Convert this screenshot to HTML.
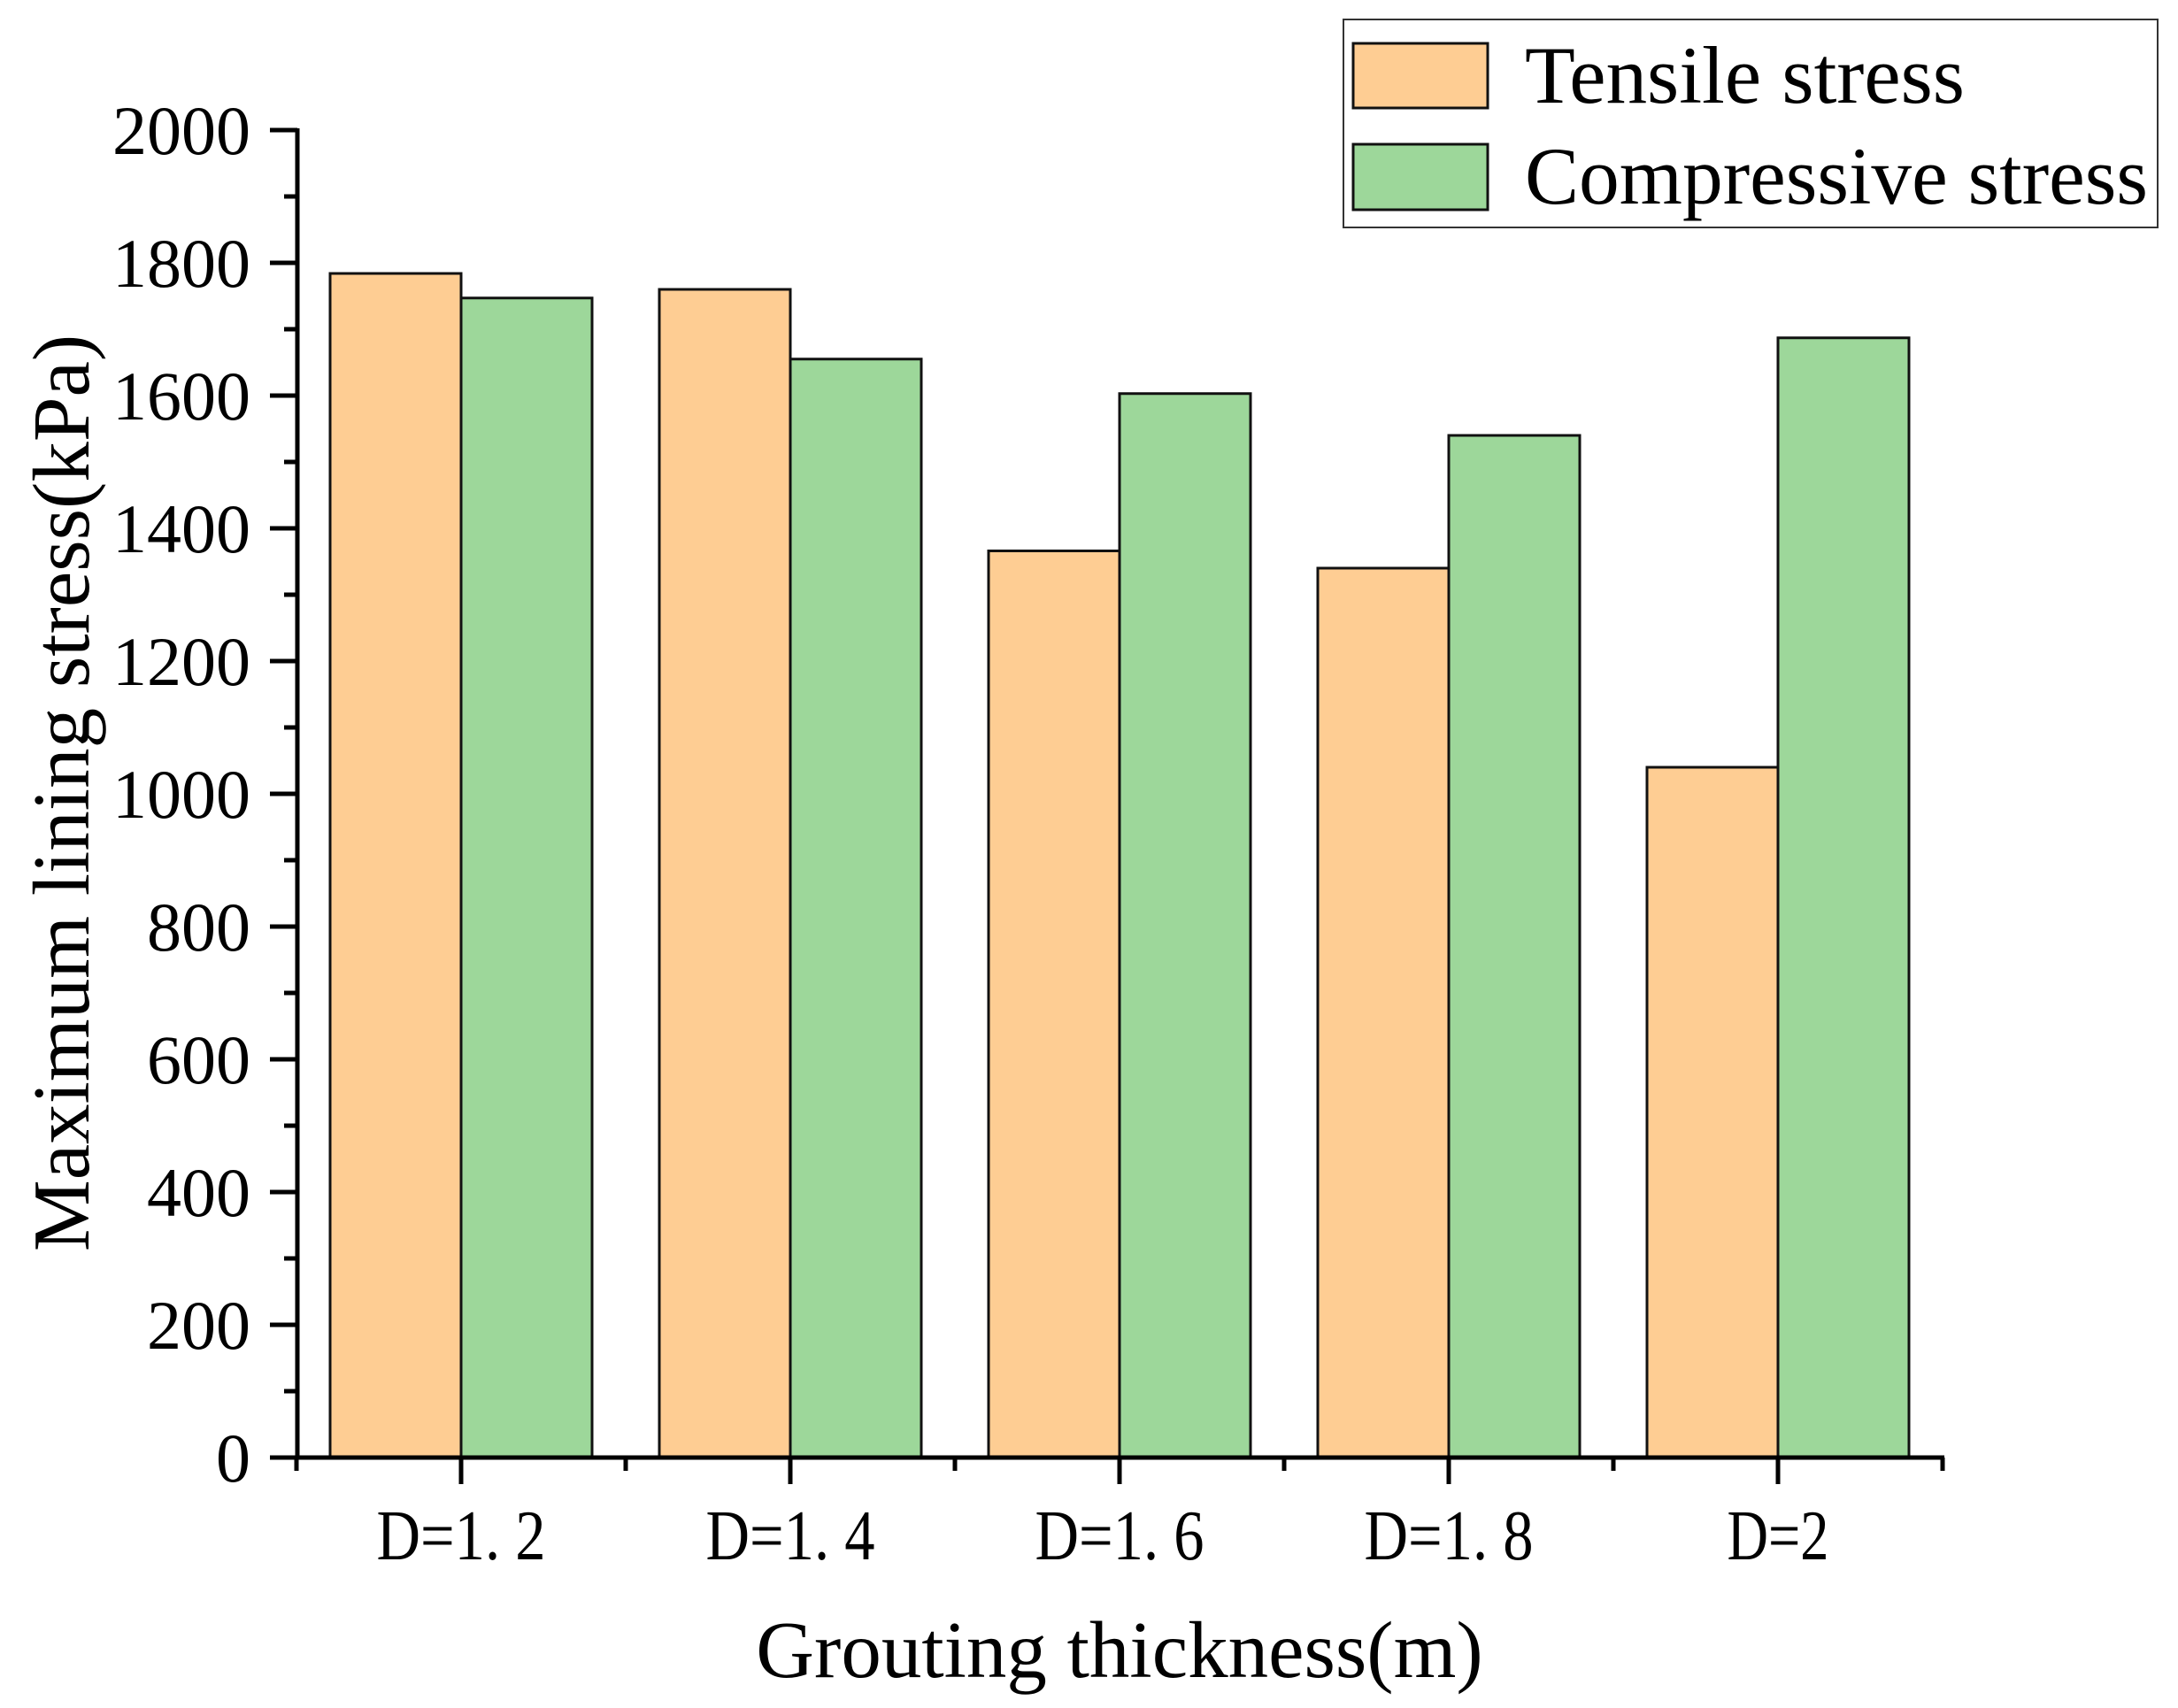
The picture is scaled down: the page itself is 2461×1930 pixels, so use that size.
<!DOCTYPE html>
<html><head><meta charset="utf-8"><style>html,body{margin:0;padding:0;background:#fff}svg{display:block}</style></head>
<body>
<svg id="chart" width="2461" height="1930" viewBox="0 0 2461 1930" xmlns="http://www.w3.org/2000/svg" font-family="'Liberation Serif', serif">
<g id="plot"></g>
<g>
<rect x="1518" y="22" width="920" height="235" fill="#fff" stroke="#333" stroke-width="2"/>
<rect x="1529" y="49" width="152" height="73" fill="#FECD93" stroke="#111" stroke-width="3"/>
<text x="1723" y="116" font-size="92" textLength="497" lengthAdjust="spacingAndGlyphs">Tensile stress</text>
<rect x="1529" y="163" width="152" height="74" fill="#9DD79A" stroke="#111" stroke-width="3"/>
<text x="1723" y="230" font-size="92" textLength="704" lengthAdjust="spacingAndGlyphs">Compressive stress</text>
</g>
<text x="1265" y="1895" font-size="91" text-anchor="middle">Grouting thickness(m)</text>
<text transform="translate(100,896) rotate(-90)" font-size="91" text-anchor="middle">Maximum lining stress(kPa)</text>
</svg>
<script>
const categories = ["D=1. 2", "D=1. 4", "D=1. 6", "D=1. 8", "D=2"];
const tensile = [1784, 1760, 1366, 1340, 1040];
const compressive = [1747, 1655, 1603, 1540, 1687];
const yTicks = [0, 200, 400, 600, 800, 1000, 1200, 1400, 1600, 1800, 2000];

const NS = "http://www.w3.org/2000/svg";
const g = document.getElementById("plot");
const x0 = 521, step = 372, barW = 148, yZero = 1647, yScale = 0.75;
const xAxisLeft = x0 - step / 2, xAxisRight = x0 + step * (categories.length - 0.5);
const yAxisX = 336;
function xc(i) { return x0 + i * step; }
function y(v) { return yZero - v * yScale; }
function mk(tag, attrs) { const e = document.createElementNS(NS, tag); for (const k in attrs) e.setAttribute(k, attrs[k]); g.appendChild(e); return e; }

categories.forEach((c, i) => {
  const t = mk("rect", {x: xc(i) - barW, y: y(tensile[i]), width: barW, height: yZero - y(tensile[i]), fill: "#FECD93", stroke: "#111", "stroke-width": 3});
  
  
  const cb = mk("rect", {x: xc(i), y: y(compressive[i]), width: barW, height: yZero - y(compressive[i]), fill: "#9DD79A", stroke: "#111", "stroke-width": 3});
  
  
  const tk = mk("line", {x1: xc(i), x2: xc(i), y1: yZero, y2: yZero + 30, stroke: "#000", "stroke-width": 5});
  
  
  const lb = mk("text", {x: xc(i), y: 1762, "font-size": 80, "text-anchor": "middle", textLength: c.length > 3 ? 191 : 115, lengthAdjust: "spacingAndGlyphs"});
  lb.textContent = c;
  
  
});
for (let i = 0; i <= categories.length; i++) {
  const m = mk("line", {x1: xAxisLeft + i * step, x2: xAxisLeft + i * step, y1: yZero, y2: yZero + 15, stroke: "#000", "stroke-width": 5});
  
  
}
yTicks.forEach((v, i) => {
  const t = mk("line", {x1: yAxisX - 31, x2: yAxisX, y1: y(v), y2: y(v), stroke: "#000", "stroke-width": 5});
  
  
  const l = mk("text", {x: 283, y: y(v) + 27, "font-size": 78, "text-anchor": "end"});
  l.textContent = v;
  
  
  if (i < yTicks.length - 1) {
    const mv = (v + yTicks[i + 1]) / 2;
    const m = mk("line", {x1: yAxisX - 15, x2: yAxisX, y1: y(mv), y2: y(mv), stroke: "#000", "stroke-width": 5});
    
    
  }
});
const ya = mk("line", {x1: yAxisX, x2: yAxisX, y1: y(2000) - 2, y2: yZero + 2, stroke: "#000", "stroke-width": 5});


const xa = mk("line", {x1: xAxisLeft - 2, x2: xAxisRight + 2, y1: yZero, y2: yZero, stroke: "#000", "stroke-width": 5});


</script>
</body></html>
